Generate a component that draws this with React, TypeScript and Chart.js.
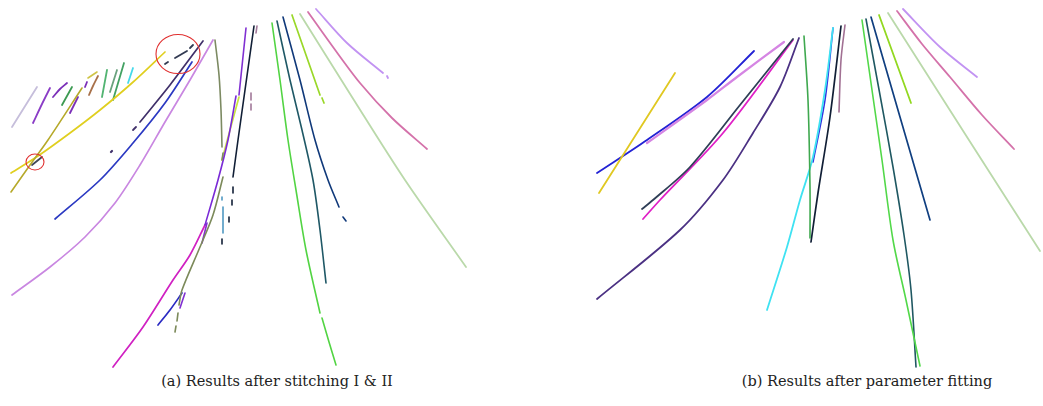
import React, { useEffect, useRef } from "react";
import { Chart, registerables } from "chart.js";

Chart.register(...registerables);

type Pt = [number, number];

// ---------- (a) track pieces after stitching I & II ----------
const aLavenderShort: Pt[] = [[12, 127], [37, 87]];
const aVioletShort1: Pt[] = [[33, 123], [42, 104], [50, 88]];
const aVioletShort2: Pt[] = [[53, 97], [60, 89], [67, 83]];
const aGreenShort1: Pt[] = [[62, 105], [72, 87]];
const aOliveLong: Pt[] = [[11, 192], [30, 165], [48, 140], [82, 88]];
const aOliveTip: Pt[] = [[88, 78], [97, 72]];
const aYellowLong: Pt[] = [[11, 173], [38, 156], [70, 133], [100, 110], [132, 83], [165, 52]];
const aDarkCross: Pt[] = [[32, 165], [42, 157]];
const aVioletDash1: Pt[] = [[70, 113], [74, 105], [78, 97]];
const aVioletDash2: Pt[] = [[85, 87], [87, 82]];
const aBrown: Pt[] = [[89, 95], [93, 86], [98, 76]];
const aGreenShort2: Pt[] = [[102, 97], [107, 70]];
const aGreenShort3: Pt[] = [[110, 92], [117, 70]];
const aGreenShort4: Pt[] = [[113, 100], [124, 63]];
const aCyanShort: Pt[] = [[128, 83], [133, 68]];
const aSlateDash1: Pt[] = [[165, 64], [168, 62]];
const aSlateDash2: Pt[] = [[175, 58], [187, 51]];
const aSlateDash3: Pt[] = [[190, 48], [193, 45]];
const aPlum: Pt[] = [[140, 122], [170, 85], [203, 41]];
const aPlumDash: Pt[] = [[133, 130], [136, 127]];
const aPlumDot: Pt[] = [[111, 152], [112, 151]];
const aBlue: Pt[] = [[55, 219], [100, 180], [133, 143], [165, 103], [192, 62]];
const aOrchid: Pt[] = [[12, 295], [50, 267], [85, 237], [115, 203], [140, 165], [165, 122], [190, 80], [213, 40]];
const aOliveGrayUpper: Pt[] = [[215, 40], [219, 75], [221, 110], [222, 147]];
const aOliveGrayBit: Pt[] = [[223, 153], [222, 160]];
const aOliveGrayLower: Pt[] = [[223, 177], [213, 215], [200, 247], [182, 290], [179, 305]];
const aOliveGrayDash1: Pt[] = [[178, 313], [177, 321]];
const aOliveGrayDash2: Pt[] = [[176, 326], [175, 332]];
const aVioletTop: Pt[] = [[246, 28], [239, 95]];
const aVioletLong: Pt[] = [[236, 96], [228, 140], [218, 180], [205, 225]];
const aMagenta: Pt[] = [[205, 225], [190, 255], [173, 280], [143, 327], [113, 367]];
const aLime: Pt[] = [[239, 97], [230, 130], [222, 160]];
const aInk: Pt[] = [[254, 26], [245, 90], [238, 140], [233, 177]];
const aInkDash1: Pt[] = [[233, 187], [233, 193]];
const aInkDash2: Pt[] = [[232, 200], [232, 205]];
const aInkDash3: Pt[] = [[229, 217], [229, 222]];
const aInkDash4: Pt[] = [[222, 239], [222, 244]];
const aMauve1: Pt[] = [[257, 26], [256, 33]];
const aMauve2: Pt[] = [[251, 93], [251, 100]];
const aMauve3: Pt[] = [[251, 104], [251, 110]];
const aSkyBlue: Pt[] = [[223, 207], [223, 233]];
const aSkyDot: Pt[] = [[222, 197], [222, 200]];
const aVioletSmall: Pt[] = [[207, 223], [202, 243]];
const aBlueShort: Pt[] = [[158, 325], [170, 310], [182, 293]];
const aVioletShort3: Pt[] = [[185, 293], [180, 308]];
const aGreen: Pt[] = [[272, 23], [280, 80], [288, 140], [296, 190], [306, 250], [320, 313]];
const aGreenTail: Pt[] = [[322, 318], [329, 342], [336, 365]];
const aTeal: Pt[] = [[277, 21], [290, 80], [302, 130], [313, 180], [320, 230], [326, 283]];
const aNavy: Pt[] = [[283, 17], [300, 80], [315, 140], [328, 180], [339, 207]];
const aNavyDash: Pt[] = [[343, 217], [346, 221]];
const aYellowGreen: Pt[] = [[292, 15], [320, 95]];
const aYellowGreenDash: Pt[] = [[322, 98], [324, 103]];
const aPaleGreen: Pt[] = [[300, 14], [352, 97], [405, 180], [466, 267]];
const aPink: Pt[] = [[308, 12], [333, 47], [360, 83], [392, 118], [427, 149]];
const aLavender: Pt[] = [[316, 9], [347, 43], [383, 73]];
const aLavenderDash: Pt[] = [[387, 76], [388, 78]];
// highlighted regions: [x, y, radiusX, radiusY]
const aMarks: [number, number, number, number][] = [[178, 54, 22, 19.5], [35, 162, 9, 8]];

// ---------- (b) fitted tracks ----------
const bYellow: Pt[] = [[675, 73], [599, 193]];
const bOrchid: Pt[] = [[784, 42], [737, 77], [707, 100], [647, 143]];
const bBlue: Pt[] = [[754, 51], [707, 97], [647, 140], [597, 173]];
const bMagenta: Pt[] = [[793, 40], [723, 133], [660, 200], [643, 219]];
const bSlate: Pt[] = [[793, 39], [740, 105], [690, 167], [653, 200], [642, 209]];
const bPlum: Pt[] = [[799, 38], [780, 87], [753, 133], [723, 180], [680, 230], [597, 299]];
const bGreenDark: Pt[] = [[804, 36], [808, 100], [810, 187], [810, 238]];
const bCyan: Pt[] = [[833, 28], [825, 90], [813, 157], [800, 200], [787, 247], [767, 310]];
const bBlue2: Pt[] = [[833, 28], [825, 100], [813, 162]];
const bInk: Pt[] = [[841, 26], [830, 117], [818, 193], [811, 242]];
const bMauve: Pt[] = [[845, 25], [841, 60], [839, 112]];
const bGreen: Pt[] = [[862, 20], [872, 90], [882, 160], [893, 240], [906, 300], [920, 366]];
const bTeal: Pt[] = [[866, 19], [880, 95], [893, 167], [904, 235], [911, 290], [916, 367]];
const bNavy: Pt[] = [[871, 17], [900, 117], [930, 220]];
const bYellowGreen: Pt[] = [[879, 15], [911, 103]];
const bPaleGreen: Pt[] = [[888, 13], [967, 137], [1040, 251]];
const bPink: Pt[] = [[897, 11], [922, 44], [950, 77], [982, 115], [1014, 149]];
const bLavender: Pt[] = [[903, 9], [940, 47], [977, 77]];

const captionA = "(a) Results after stitching I & II";
const captionB = "(b) Results after parameter fitting";

// stroke lists: [points, colour, width]
const strokesA: [Pt[], string, number][] = [
  [aLavenderShort, "#c6bedb", 1.8],
  [aVioletShort1, "#8a3cc6", 1.8],
  [aVioletShort2, "#7b2fb8", 1.8],
  [aGreenShort1, "#3c9a52", 1.8],
  [aOliveLong, "#b6a92a", 1.6],
  [aOliveTip, "#cfc447", 1.6],
  [aYellowLong, "#e0cf1f", 1.7],
  [aDarkCross, "#3f4757", 1.8],
  [aVioletDash1, "#7b2fb8", 1.8],
  [aVioletDash2, "#7b2fb8", 1.8],
  [aBrown, "#a8714a", 1.8],
  [aGreenShort2, "#52b472", 1.8],
  [aGreenShort3, "#6aa27e", 1.8],
  [aGreenShort4, "#43a163", 1.8],
  [aCyanShort, "#45d9ea", 1.8],
  [aSlateDash1, "#323a52", 1.8],
  [aSlateDash2, "#323a52", 1.8],
  [aSlateDash3, "#323a52", 1.8],
  [aPlum, "#40306a", 1.7],
  [aPlumDash, "#40306a", 1.8],
  [aPlumDot, "#40306a", 2.2],
  [aBlue, "#2b39c2", 1.7],
  [aOrchid, "#c987e1", 1.7],
  [aOliveGrayUpper, "#7c8a62", 1.6],
  [aOliveGrayBit, "#7c8a62", 1.6],
  [aOliveGrayLower, "#7c8a5a", 1.6],
  [aOliveGrayDash1, "#7c8a5a", 1.6],
  [aOliveGrayDash2, "#7c8a5a", 1.6],
  [aVioletTop, "#8030d2", 1.6],
  [aVioletLong, "#7a2ad6", 1.6],
  [aMagenta, "#d021c2", 1.7],
  [aLime, "#c9e33f", 1.7],
  [aInk, "#111f36", 1.6],
  [aInkDash1, "#111f36", 1.6],
  [aInkDash2, "#111f36", 1.6],
  [aInkDash3, "#111f36", 1.6],
  [aInkDash4, "#111f36", 1.6],
  [aMauve1, "#a17899", 1.6],
  [aMauve2, "#a17899", 1.6],
  [aMauve3, "#a17899", 1.6],
  [aSkyBlue, "#4f98c2", 1.6],
  [aSkyDot, "#4f98c2", 1.6],
  [aVioletSmall, "#8030d2", 1.6],
  [aBlueShort, "#2a2ac2", 1.7],
  [aVioletShort3, "#8030d2", 1.6],
  [aGreen, "#52d443", 1.6],
  [aGreenTail, "#52d443", 1.6],
  [aTeal, "#1f5866", 1.6],
  [aNavy, "#10397a", 1.6],
  [aNavyDash, "#10397a", 1.6],
  [aYellowGreen, "#9ad829", 1.7],
  [aYellowGreenDash, "#9ad829", 1.7],
  [aPaleGreen, "#bad9aa", 1.8],
  [aPink, "#d472aa", 1.8],
  [aLavender, "#c293f2", 1.8],
  [aLavenderDash, "#c293f2", 1.8],
];

const strokesB: [Pt[], string, number][] = [
  [bYellow, "#e0c821", 1.8],
  [bOrchid, "#d585e3", 2.2],
  [bBlue, "#2222d4", 1.8],
  [bSlate, "#2f3f57", 1.8],
  [bMagenta, "#e020c6", 1.8],
  [bPlum, "#4b3183", 1.8],
  [bGreenDark, "#3fa84f", 1.6],
  [bCyan, "#3fe2f2", 1.8],
  [bBlue2, "#3131e0", 1.6],
  [bInk, "#111f36", 1.7],
  [bMauve, "#a17093", 1.6],
  [bGreen, "#52d849", 1.6],
  [bTeal, "#1f5862", 1.6],
  [bNavy, "#103f80", 1.7],
  [bYellowGreen, "#92d821", 1.8],
  [bPaleGreen, "#bad9aa", 1.8],
  [bPink, "#d472aa", 1.8],
  [bLavender, "#c293f2", 1.8],
];

const PLOT_H = 370;

function buildDatasets(strokes: [Pt[], string, number][]) {
  return strokes.map(([pts, color, width]) => ({
    data: pts.map(([x, y]) => ({ x, y })),
    showLine: true,
    borderColor: color,
    backgroundColor: color,
    borderWidth: width,
    borderCapStyle: "round" as const,
    borderJoinStyle: "round" as const,
    pointRadius: 0,
    pointHoverRadius: 0,
    tension: 0.3,
  }));
}

// red outline ellipses around highlighted stitching spots, placed through the scales
const ellipseMarks = {
  id: "ellipseMarks",
  afterDatasetsDraw(chart: any, _args: any, opts: any) {
    const marks: [number, number, number, number][] = opts.marks || [];
    if (!marks.length) return;
    const { ctx, scales } = chart;
    ctx.save();
    ctx.strokeStyle = "#e03030";
    ctx.lineWidth = 1.1;
    for (const [x, y, rx, ry] of marks) {
      const cx = scales.x.getPixelForValue(x);
      const cy = scales.y.getPixelForValue(y);
      const prx = Math.abs(scales.x.getPixelForValue(x + rx) - cx);
      const pry = Math.abs(scales.y.getPixelForValue(y + ry) - cy);
      ctx.beginPath();
      ctx.ellipse(cx, cy, prx, pry, 0, 0, Math.PI * 2);
      ctx.stroke();
    }
    ctx.restore();
  },
};

function makeOptions(xMin: number, xMax: number, marks: [number, number, number, number][]) {
  return {
    responsive: false,
    animation: false as const,
    events: [],
    layout: { padding: 0 },
    plugins: {
      legend: { display: false },
      tooltip: { enabled: false },
      ellipseMarks: { marks },
    },
    scales: {
      x: { type: "linear" as const, min: xMin, max: xMax, display: false },
      y: { type: "linear" as const, min: 0, max: PLOT_H, reverse: true, display: false },
    },
  };
}

function Panel({ strokes, xMin, xMax, marks = [] }: {
  strokes: [Pt[], string, number][];
  xMin: number;
  xMax: number;
  marks?: [number, number, number, number][];
}) {
  const ref = useRef<HTMLCanvasElement | null>(null);
  useEffect(() => {
    if (!ref.current) return;
    const chart = new Chart(ref.current, {
      type: "scatter",
      data: { datasets: buildDatasets(strokes) as any },
      options: makeOptions(xMin, xMax, marks) as any,
      plugins: [ellipseMarks],
    });
    return () => chart.destroy();
  }, []);
  return (
    <canvas
      ref={ref}
      width={xMax - xMin}
      height={PLOT_H}
      style={{ position: "absolute", left: xMin, top: 0, width: xMax - xMin, height: PLOT_H }}
    />
  );
}

const captionStyle: React.CSSProperties = {
  position: "absolute",
  top: 373,
  transform: "translateX(-50%)",
  whiteSpace: "nowrap",
  fontFamily: "'DejaVu Serif', serif",
  fontSize: 14.5,
  color: "#222",
};

export default function App() {
  return (
    <div style={{ position: "absolute", left: 0, top: 0, width: 1043, height: 406, background: "#fff", overflow: "hidden" }}>
      <Panel strokes={strokesA} xMin={0} xMax={521} marks={aMarks} />
      <Panel strokes={strokesB} xMin={521} xMax={1043} />
      <div style={{ ...captionStyle, left: 277 }}>{captionA}</div>
      <div style={{ ...captionStyle, left: 867 }}>{captionB}</div>
    </div>
  );
}
